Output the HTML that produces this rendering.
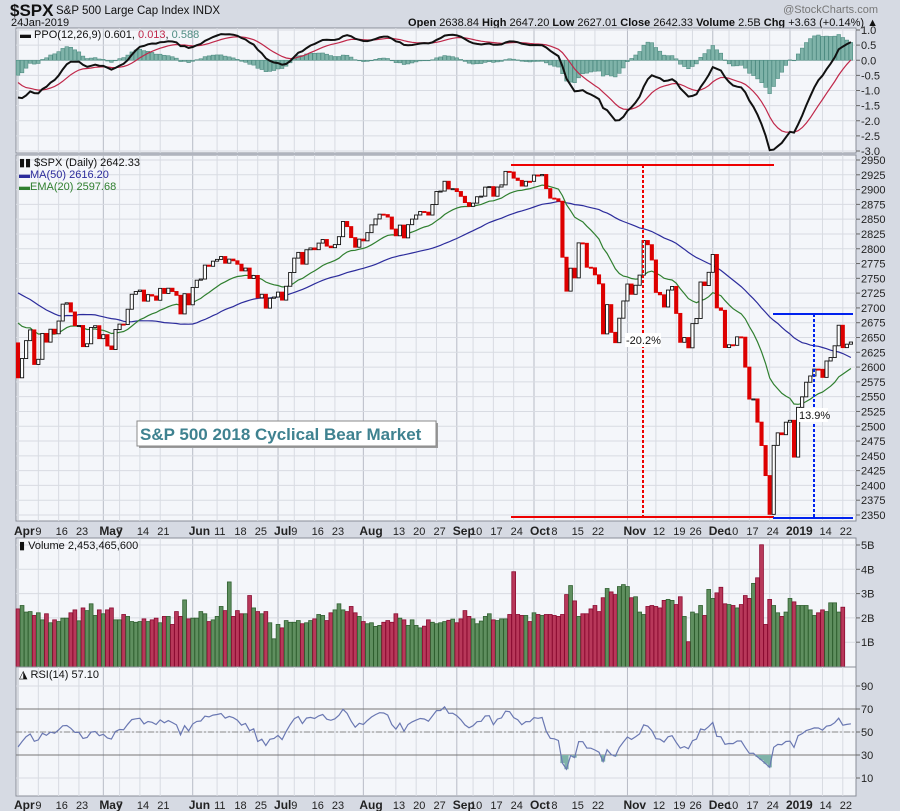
<!DOCTYPE html>
<html><head><meta charset="utf-8"><style>
html,body{margin:0;padding:0;background:#d6dae3;}
svg{display:block;font-family:"Liberation Sans",sans-serif;}
</style></head><body>
<svg id="chart" width="900" height="811" viewBox="0 0 900 811" xmlns="http://www.w3.org/2000/svg">
<rect x="0" y="0" width="900" height="811" fill="#d6dae3"/>
<g id="header">
<text x="10" y="16" font-size="17" font-weight="bold" fill="#111">$SPX</text>
<text x="56" y="14" font-size="11.5" fill="#111">S&amp;P 500 Large Cap Index  INDX</text>
<text x="11" y="26" font-size="11" fill="#111">24Jan-2019</text>
<text x="878" y="13" font-size="11" fill="#777" text-anchor="end">@StockCharts.com</text>
<text x="878" y="26" font-size="11" fill="#111" text-anchor="end"><tspan font-weight="bold">Open</tspan> 2638.84 <tspan font-weight="bold">High</tspan> 2647.20 <tspan font-weight="bold">Low</tspan> 2627.01 <tspan font-weight="bold">Close</tspan> 2642.33 <tspan font-weight="bold">Volume</tspan> 2.5B <tspan font-weight="bold">Chg</tspan> +3.63 (+0.14%) ▲</text>
</g>
<g id="panels"></g>
</svg>
<script>
const warmupCloses=[2695.81,2713.06,2723.99,2743.15,2747.71,2751.29,2748.23,2767.56,2786.24,2776.42,2802.56,2798.03,2810.30,2832.97,2839.13,2837.54,2839.25,2872.87,2853.53,2822.43,2823.81,
2821.98,2762.13,2648.94,2695.14,2681.66,2581.00,2619.55,2656.00,2662.94,2698.63,2731.20,2732.22,2716.26,2701.33,2703.96,2747.30,2779.60,2744.28,2713.83,
2677.67,2691.25,2720.94,2728.12,2726.80,2738.97,2786.57,2783.02,2765.31,2749.48,2747.33,2752.01,2712.92,2716.94,2711.93,2643.69,2588.26,2658.55,2612.62,2605.00,2640.87];
const closes=[2581.88,2614.45,2644.69,2662.84,2604.47,2613.16,2656.87,2642.19,2663.99,2656.30,2677.84,2706.39,2708.64,2693.13,2670.14,2670.29,2634.56,2639.40,2666.94,2669.91,2648.05,
2654.80,2635.67,2629.73,2663.42,2672.63,2671.92,2697.79,2723.07,2727.72,2730.13,2711.45,2722.46,2720.13,2712.97,2733.01,2724.44,2733.29,2727.76,2721.33,2689.86,2724.01,2705.27,
2734.62,2746.87,2748.80,2772.35,2770.37,2779.03,2782.00,2786.85,2775.63,2782.49,2779.66,2773.87,2762.59,2767.32,2749.76,2754.88,2717.07,2723.06,2699.63,2716.31,2718.37,
2726.71,2713.22,2736.61,2759.82,2784.17,2793.84,2774.02,2798.29,2801.31,2798.43,2809.55,2815.62,2804.49,2801.83,2806.98,2820.40,2846.07,2837.44,2818.82,2802.60,2816.29,
2813.36,2827.22,2840.35,2850.40,2858.45,2857.70,2853.58,2833.28,2821.93,2839.96,2818.37,2840.69,2850.13,2857.05,2862.96,2861.82,2856.98,2874.69,2896.74,2897.52,2914.04,2901.13,2901.52,
2896.72,2888.60,2878.05,2871.68,2877.13,2887.89,2888.92,2904.18,2904.98,2888.80,2904.31,2907.95,2930.75,2929.67,2919.37,2915.56,2905.97,2914.00,2913.98,
2924.59,2923.43,2925.51,2901.61,2885.57,2884.43,2880.34,2785.68,2728.37,2767.13,2750.79,2809.92,2809.21,2768.78,2767.78,2755.88,2740.69,2656.10,2705.57,2658.69,2641.25,2682.63,2711.74,
2740.37,2723.06,2738.31,2755.45,2813.89,2806.83,2781.01,2726.22,2722.18,2701.58,2730.20,2736.27,2690.73,2641.89,2649.93,2632.56,2673.45,2682.17,2743.79,2737.80,2760.17,
2790.37,2700.06,2695.95,2633.08,2637.72,2636.78,2651.07,2650.54,2599.95,2545.94,2546.16,2506.96,2467.42,2416.62,2351.10,2467.70,2488.83,2485.74,2506.85,
2510.03,2447.89,2531.94,2549.69,2574.41,2584.96,2596.64,2596.26,2582.61,2610.30,2616.10,2635.96,2670.71,2632.90,2638.70,2642.33];
const volumesB=[2.37,2.51,2.24,2.26,2.10,2.21,1.92,2.17,1.80,1.92,1.85,1.99,1.99,2.21,2.33,1.88,2.41,2.30,2.58,2.10,
2.33,2.17,2.33,2.41,1.92,1.92,2.14,2.06,1.85,1.82,1.85,1.96,1.85,1.92,1.99,1.80,2.06,2.06,1.73,2.26,
2.06,2.74,1.96,1.99,1.99,2.26,2.17,1.85,1.92,2.06,2.47,2.30,3.48,2.06,2.30,2.17,2.17,2.92,2.41,2.26,
2.17,2.26,1.80,1.14,1.73,1.59,1.89,1.82,1.82,1.89,1.76,1.80,1.89,1.96,2.14,2.10,1.89,2.21,2.33,2.58,
2.33,2.26,2.47,2.21,2.06,1.85,1.76,1.80,1.65,1.69,1.82,1.89,1.82,2.17,1.99,1.92,1.69,1.92,1.69,1.59,
1.66,1.92,1.82,1.76,1.80,1.85,1.90,1.95,1.80,1.96,2.30,2.06,1.96,1.76,1.87,2.06,2.17,1.92,
1.89,1.96,1.96,2.14,3.90,2.14,2.10,2.10,1.85,2.21,2.14,2.10,2.14,2.14,2.10,2.06,2.14,2.96,3.33,2.70,
2.06,2.17,2.17,2.37,2.51,2.26,2.83,3.21,3.07,2.96,3.29,3.37,3.29,2.83,2.87,2.24,2.14,2.47,2.51,2.47,
2.41,2.72,2.76,2.72,2.55,2.87,2.06,1.02,2.24,2.17,2.51,2.10,3.17,2.80,3.03,3.26,2.58,2.55,2.51,2.41,
2.55,2.92,2.80,3.42,3.65,5.01,1.73,2.76,2.51,2.21,2.06,2.24,2.80,2.66,2.51,2.51,2.51,2.33,2.10,2.21,
2.33,2.26,2.62,2.62,2.24,2.44];
const priceTicks=[2350,2375,2400,2425,2450,2475,2500,2525,2550,2575,2600,2625,2650,2675,2700,2725,2750,2775,2800,2825,2850,2875,2900,2925,2950];
const ppoTicks=[1.0,0.5,0.0,-0.5,-1.0,-1.5,-2.0,-2.5,-3.0];
const volTicks=[1,2,3,4,5];
const rsiTicks=[10,30,50,70,90];
const holidays=['2018-05-28','2018-07-04','2018-09-03','2018-11-22','2018-12-05','2018-12-25','2019-01-01','2019-01-21'];
const monthNames=['Jan','Feb','Mar','Apr','May','Jun','Jul','Aug','Sep','Oct','Nov','Dec'];

const NS='http://www.w3.org/2000/svg';
const root=document.getElementById('panels');
function mk(tag,attrs,parent){const e=document.createElementNS(NS,tag);for(const k in attrs)e.setAttribute(k,attrs[k]);(parent||root).appendChild(e);return e;}

const L=16,R=856,X0=18,STEP=4.063;
const xAt=i=>X0+i*STEP;
const P={top:155,bot:521}; const yPrice=v=>160+(2950-v)*(355/600);
const Q={top:28,bot:153}; const yPPO=v=>60.25-v*30.25;
const V={top:538,bot:667}; const yVol=v=>666.5-v*24.3;
const S={top:667,bot:796}; const yRSI=v=>732-(v-50)*1.15;

const dates=[];{let d=new Date(Date.UTC(2018,3,2));while(dates.length<closes.length){const wd=d.getUTCDay();const iso=d.toISOString().slice(0,10);if(wd>0&&wd<6&&holidays.indexOf(iso)<0)dates.push(new Date(d));d=new Date(d.getTime()+86400000);}}
const xlabels=[];{
 const monthStarts=[];for(let i=0;i<dates.length;i++){if(i===0||dates[i].getUTCMonth()!==dates[i-1].getUTCMonth())monthStarts.push(i);}
 let lastM=-99;
 for(let i=0;i<dates.length;i++){const d=dates[i];
  if(monthStarts.indexOf(i)>=0){xlabels.push({i,t:d.getUTCMonth()===0?String(d.getUTCFullYear()):monthNames[d.getUTCMonth()],m:true});lastM=i;}
  else if(d.getUTCDay()<dates[i-1].getUTCDay()&&i-lastM>=4){const nextM=monthStarts.find(m=>m>i);if(nextM!==undefined&&nextM-i<=3)continue;xlabels.push({i,t:String(d.getUTCDate()),m:false});}}}

const all=warmupCloses.concat(closes);const W=warmupCloses.length;
function ema(arr,n){const k=2/(n+1);const o=[];let e=arr[0];for(let i=0;i<arr.length;i++){e=i===0?arr[0]:arr[i]*k+e*(1-k);o.push(e);}return o;}
const e12=ema(all,12),e26=ema(all,26),e20=ema(all,20);
const ppo=all.map((v,i)=>(e12[i]-e26[i])/e26[i]*100);const sig=ema(ppo,9);
const sma50=all.map((v,i)=>{if(i<49)return null;let s=0;for(let j=i-49;j<=i;j++)s+=all[j];return s/50;});
const rsi=[];{let ag=0,al=0;for(let i=1;i<all.length;i++){const ch=all[i]-all[i-1];const g=Math.max(ch,0),l=Math.max(-ch,0);if(i<=14){ag+=g/14;al+=l/14;}else{ag=(ag*13+g)/14;al=(al*13+l)/14;}rsi[i]=al===0?100:100-100/(1+ag/al);}}

function panel(p,name){
  const g=mk('g',{});
  
  
  const r=mk('rect',{x:L,y:p.top,width:R-L,height:p.bot-p.top,fill:'#f4f6fa',stroke:'#8a8e98','stroke-width':1},g);
  
  
  return g;
}
function vgrid(g,p){xlabels.forEach(l=>{const ln=mk('line',{x1:xAt(l.i),x2:xAt(l.i),y1:p.top,y2:p.bot,stroke:l.m?'#b8bcc6':'#d8dbe2','stroke-width':1},g);});}
function hgrid(g,vals,fy,p,fmt,name){vals.forEach(v=>{const y=fy(v);const ln=mk('line',{x1:L,x2:R,y1:y,y2:y,stroke:'#d8dbe2','stroke-width':1},g);
 const t=mk('text',{x:861,y:y+4,'font-size':11,fill:'#222'},g);t.textContent=fmt(v);
 const tk=mk('line',{x1:R,x2:R+4,y1:y,y2:y,stroke:'#666'},g);});}
function xaxis(y,name){const g=mk('g',{});
 xlabels.forEach(l=>{const t=mk('text',{x:xAt(l.i)-(l.m?4:3),y:y,'font-size':l.m?12:11,'font-weight':l.m?'bold':'normal',fill:'#222'},g);t.textContent=l.t;});}
function pathOf(arr,fy,from){let d='';for(let i=0;i<closes.length;i++){const v=arr[i+from];if(v==null)continue;d+=(d?'L':'M')+xAt(i).toFixed(1)+','+fy(v).toFixed(1);}return d;}

{const g=panel(Q,'ppo-panel');vgrid(g,Q);
 hgrid(g,ppoTicks,yPPO,Q,v=>v.toFixed(1),'ppo');
 for(let i=0;i<closes.length;i++){const h=ppo[i+W]-sig[i+W];const y0=yPPO(0),y1=yPPO(h);
  const b=mk('rect',{x:xAt(i)-1.8,y:Math.min(y0,y1),width:3.6,height:Math.max(0.5,Math.abs(y1-y0)),fill:'#7fb3a9',stroke:'#4f8c82','stroke-width':0.6},g);
  
  }
 const s=mk('path',{d:pathOf(sig,yPPO,W),fill:'none',stroke:'#c0284a','stroke-width':1.2},g);
 
 
 const p=mk('path',{d:pathOf(ppo,yPPO,W),fill:'none',stroke:'#111','stroke-width':2},g);
 
 
 const t=mk('text',{x:20,y:38,'font-size':11,fill:'#111'},g);
 
 
 t.innerHTML='<tspan font-weight="bold">▬</tspan> PPO(12,26,9) 0.601, <tspan fill="#c0284a">0.013</tspan>, <tspan fill="#4f8c82">0.588</tspan>';}

{const g=panel(P,'price-panel');vgrid(g,P);
 hgrid(g,priceTicks,yPrice,P,v=>String(v),'price');
 const ma=mk('path',{d:pathOf(sma50,yPrice,W),fill:'none',stroke:'#2c2c9c','stroke-width':1.2},g);
 
 
 const em=mk('path',{d:pathOf(e20,yPrice,W),fill:'none',stroke:'#2f7f2f','stroke-width':1.2},g);
 
 
 for(let i=0;i<closes.length;i++){const c=closes[i];const o=i===0?warmupCloses[W-1]:closes[i-1];const up=c>=o;
  const y1=yPrice(Math.max(o,c)),y2=yPrice(Math.min(o,c));
  const b=mk('rect',{x:xAt(i)-1.6,y:y1,width:3.2,height:Math.max(1,y2-y1),fill:up?'#ffffff':'#dd0000',stroke:up?'#111':'#dd0000','stroke-width':0.9},g);
  
  }
 const st=(x1,y1,x2,y2,col,dash,name)=>{const l=mk('line',{x1,y1,x2,y2,stroke:col,'stroke-width':2,'stroke-dasharray':dash||'none'},g);};
 st(511,165,774,165,'#ee0000',null,'peak-line');
 st(511,517,774,517,'#ee0000',null,'trough-line');
 st(643,165,643,517,'#ee0000','3,2','decline-measure-line');
 st(773,314,853,314,'#0022ee',null,'rebound-high-line');
 st(773,518,853,518,'#0022ee',null,'rebound-low-line');
 st(814,314,814,518,'#0022ee','3,2','rebound-measure-line');
 const lb=(x,y,w,txt,name)=>{const r=mk('rect',{x,y:y-11,width:w,height:14,fill:'#fff'},g);const t=mk('text',{x:x+1,y,'font-size':11,fill:'#111'},g);t.textContent=txt;};
 lb(625,344,36,'-20.2%','decline-percent-label');
 lb(798,419,30,'13.9%','rebound-percent-label');
 const sh=mk('rect',{x:139,y:423,width:299,height:25,fill:'#9a9a9a'},g);
 const bx=mk('rect',{x:137,y:421,width:299,height:25,fill:'#fff',stroke:'#888'},g);
 const at=mk('text',{x:140,y:440,'font-size':17,'font-weight':'bold',fill:'#3f8290'},g);at.textContent='S&P 500 2018 Cyclical Bear Market';
 const lg=(y,txt,col,name)=>{const t=mk('text',{x:19,y,'font-size':11,fill:col},g);t.textContent=txt;};
 lg(166,'▮▮ $SPX (Daily) 2642.33','#111','price-legend');
 lg(178,'▬MA(50) 2616.20','#2c2c9c','ma50-legend');
 lg(190,'▬EMA(20) 2597.68','#2f7f2f','ema20-legend');}
xaxis(535,'x-axis-top');

{const g=panel(V,'volume-panel');vgrid(g,V);
 hgrid(g,volTicks,yVol,V,v=>v+'B','volume');
 for(let i=0;i<volumesB.length&&i<closes.length;i++){const prev=i===0?warmupCloses[W-1]:closes[i-1];const up=closes[i]>=prev;const y=yVol(volumesB[i]);
  const b=mk('rect',{x:xAt(i)-1.9,y,width:3.8,height:V.bot-y,fill:up?'#5f8f5f':'#b8385a',stroke:up?'#2f5f2f':'#8a0a30','stroke-width':0.8},g);
  
  }
 const t=mk('text',{x:19,y:549,'font-size':11,fill:'#111'},g);t.textContent='▮ Volume 2,453,465,600';}

{const g=panel(S,'rsi-panel');vgrid(g,S);
 hgrid(g,rsiTicks,yRSI,S,v=>String(v),'rsi');
 [30,70].forEach(v=>{const l=mk('line',{x1:L,x2:R,y1:yRSI(v),y2:yRSI(v),stroke:'#777','stroke-width':1},g);});
 const m=mk('line',{x1:L,x2:R,y1:yRSI(50),y2:yRSI(50),stroke:'#888','stroke-dasharray':'6,2,2,2'},g);
 let fd='';for(let i=0;i<closes.length;i++){const v=rsi[i+W];if(v<30){fd+='M'+xAt(i).toFixed(1)+','+yRSI(30)+'L'+xAt(i).toFixed(1)+','+yRSI(v).toFixed(1);}}
 const f=mk('path',{d:fd,stroke:'#7fb3a9','stroke-width':4.2,fill:'none'},g);
 const p=mk('path',{d:pathOf(rsi,yRSI,W),fill:'none',stroke:'#6a78b2','stroke-width':1.2},g);
 const t=mk('text',{x:19,y:678,'font-size':11,fill:'#111'},g);t.textContent='◮ RSI(14) 57.10';}
xaxis(809,'x-axis-bottom');
</script>
</body></html>
